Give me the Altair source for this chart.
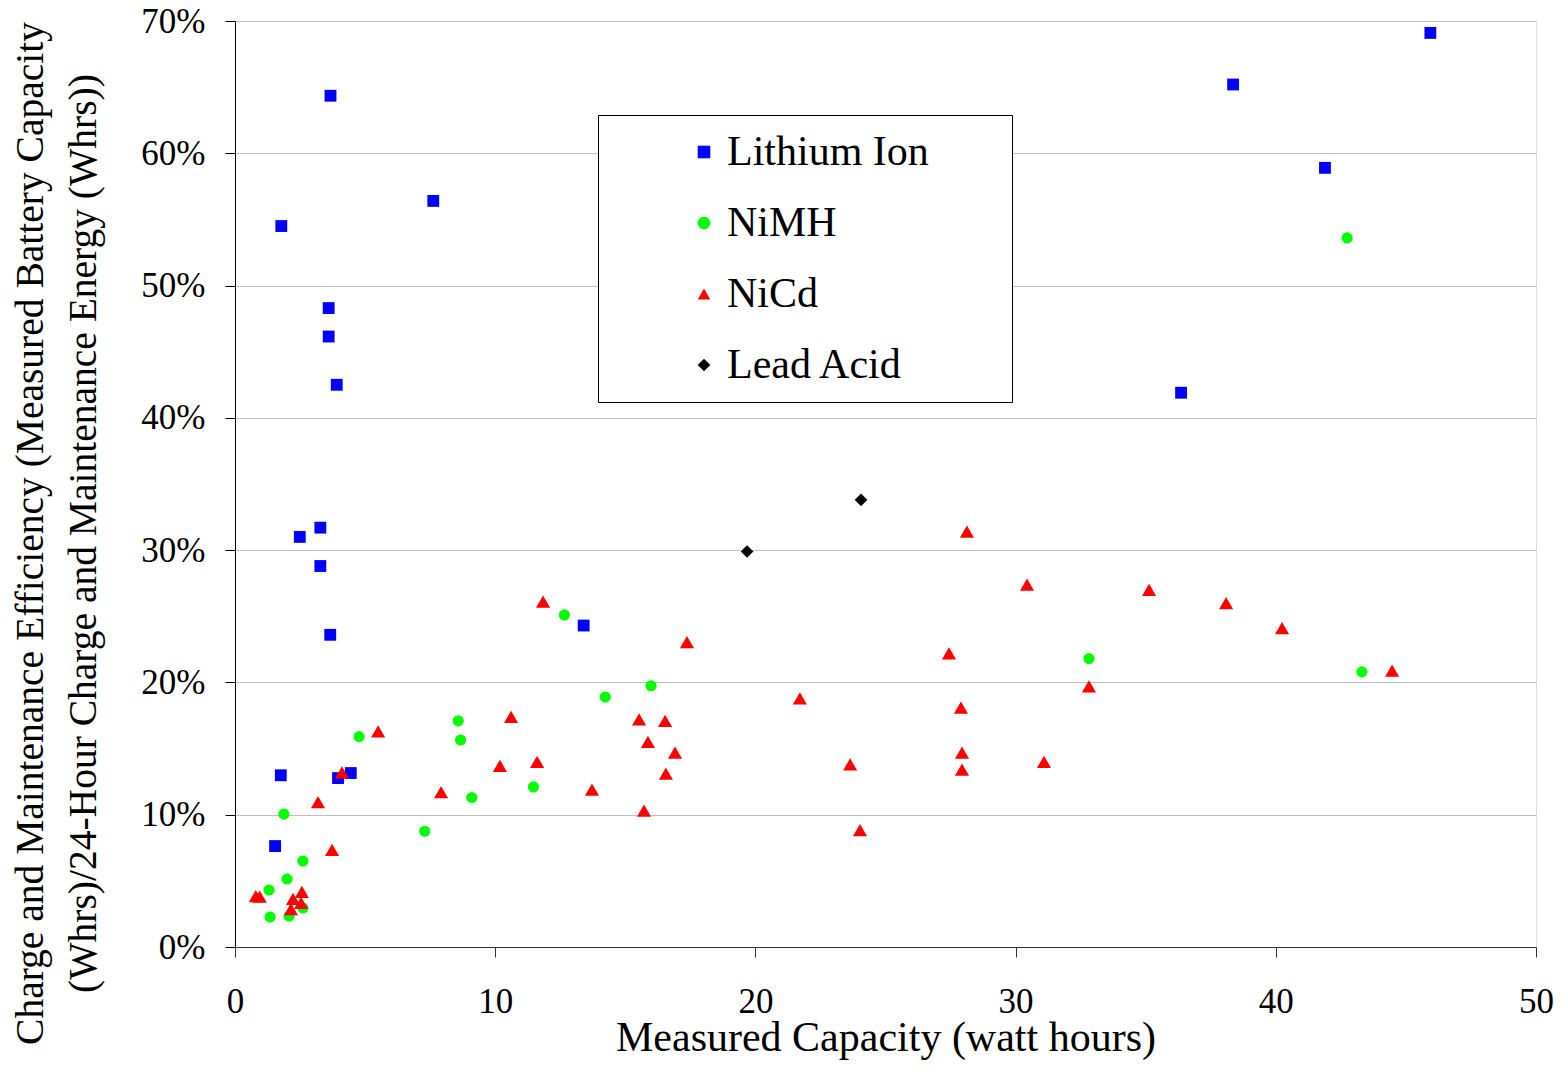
import altair as alt
import pandas as pd

# ---- data ----
li_x = [1.54, 1.76, 3.96, 4.45, 3.66, 3.28, 2.49, 3.28, 3.91, 3.60, 3.60, 1.78, 3.67, 7.62, 13.40, 36.36, 38.36, 41.89, 45.94]
li_y = [7.63, 12.98, 12.77, 13.15, 23.6, 28.8, 31.0, 31.7, 42.5, 46.15, 48.3, 54.5, 64.35, 56.4, 24.3, 41.9, 65.2, 58.9, 69.1]

nimh_x = [1.35, 2.08, 2.61, 1.31, 2.00, 2.61, 1.88, 4.77, 7.29, 8.58, 8.67, 9.10, 11.47, 12.66, 14.23, 15.99, 32.82, 42.74, 43.31]
nimh_y = [2.27, 2.34, 2.95, 4.31, 5.14, 6.50, 10.05, 15.9, 8.75, 17.1, 15.65, 11.3, 12.1, 25.1, 18.9, 19.75, 21.8, 53.6, 20.8]

nicd_x = [0.80, 0.95, 2.15, 2.23, 2.54, 2.57, 3.73, 3.19, 4.11, 5.50, 7.92, 11.84, 17.37, 10.61, 15.53, 16.53, 15.87, 16.91,
          10.18, 11.61, 13.72, 16.56, 15.72, 28.13, 30.44, 27.44, 21.71, 27.90, 32.82, 23.64, 27.94, 27.94, 31.09, 24.02,
          35.13, 38.09, 40.24, 44.47]
nicd_y = [3.85, 3.80, 2.87, 3.63, 3.33, 4.16, 7.35, 10.96, 13.2, 16.3, 11.7, 26.1, 23.05, 17.4, 17.2, 17.1, 15.5, 14.7,
          13.7, 14.0, 11.9, 13.1, 10.3, 31.4, 27.4, 22.2, 18.8, 18.1, 19.7, 13.8, 14.7, 13.4, 14.0, 8.84,
          27.0, 26.0, 24.1, 20.9]

lead_x = [19.68, 24.06]
lead_y = [29.9, 33.8]

series = ["Lithium Ion", "NiMH", "NiCd", "Lead Acid"]
colors = ["#0000FF", "#00FF00", "#FF0000", "#000000"]
shapes = ["square", "circle", "triangle-up", "diamond"]

rows = []
for name, xs, ys in [("Lithium Ion", li_x, li_y), ("NiMH", nimh_x, nimh_y),
                     ("NiCd", nicd_x, nicd_y), ("Lead Acid", lead_x, lead_y)]:
    for a, b in zip(xs, ys):
        rows.append({"cap": a, "eff": b / 100.0, "type": name})
df = pd.DataFrame(rows)

FONT = "Liberation Serif"
NB = "\u00a0"
TAIL = NB * 6 + "\u200a" + "\u200b"

legend = alt.Legend(
    orient="none", legendX=363, legendY=94,
    title=NB, titleOrient="left", titleFontSize=1, titlePadding=69,
    padding=16, strokeColor="black", fillColor="white",
    labelFont=FONT, labelFontSize=42, labelColor="black", labelLimit=800,
    labelOffset=2, rowPadding=29,
    labelExpr="datum.label + '" + TAIL + "'",
    symbolSize=160, symbolStrokeWidth=0, symbolOpacity=1)

chart = alt.Chart(df).mark_point(filled=True, opacity=1).encode(
    x=alt.X("cap:Q",
            scale=alt.Scale(domain=[0, 50], nice=False),
            axis=alt.Axis(values=[0, 10, 20, 30, 40, 50], grid=False, tickSize=10,
                          labelPadding=55, labelBaseline="alphabetic", labelFlush=False,
                          labelFontSize=35, labelFont=FONT, labelColor="black",
                          domainColor="#333333", tickColor="#333333",
                          title="Measured Capacity (watt hours)",
                          titleFont=FONT, titleFontSize=42, titleFontWeight="normal",
                          titleColor="black", titleBaseline="alphabetic", titleY=103)),
    y=alt.Y("eff:Q",
            scale=alt.Scale(domain=[0, 0.7], nice=False),
            axis=alt.Axis(values=[0, 0.1, 0.2, 0.3, 0.4, 0.5, 0.6, 0.7], format=".0%",
                          grid=True, gridColor="#C0C0C0", gridWidth=1, tickSize=10,
                          labelPadding=20, labelFontSize=35, labelFont=FONT, labelColor="black",
                          labelFlush=False,
                          domainColor="#000000", tickColor="#000000",
                          title=["Charge and Maintenance Efficiency (Measured Battery Capacity",
                                 "(Whrs)/24-Hour Charge and Maintenance Energy (Whrs))"],
                          titleFont=FONT, titleFontSize=39.5, titleFontWeight="normal",
                          titleColor="black", titleAngle=270, titleAlign="center",
                          titleBaseline="alphabetic", titleLineHeight=53,
                          titleX=-193, titleY=512)),
    color=alt.Color("type:N", scale=alt.Scale(domain=series, range=colors), legend=legend),
    shape=alt.Shape("type:N", scale=alt.Scale(domain=series, range=shapes), legend=legend),
    size=alt.Size("sz:Q", scale=None, legend=None),
    order=alt.Order("idx:Q"),
).transform_calculate(
    idx="indexof(['Lithium Ion','NiMH','NiCd','Lead Acid'], datum.type)",
    sz="datum.type == 'NiCd' ? 200 : (datum.type == 'NiMH' ? 125 : (datum.type == 'Lead Acid' ? 160 : 140))",
).properties(
    width=1301, height=926,
    autosize=alt.AutoSizeParams(type="none"),
    padding={"left": 227, "top": 13, "right": 22, "bottom": 117},
).configure_view(
    stroke="#808080", strokeWidth=1
).configure(background="white")

chart.save("out.html", embed_options={"renderer": "svg", "actions": False})
